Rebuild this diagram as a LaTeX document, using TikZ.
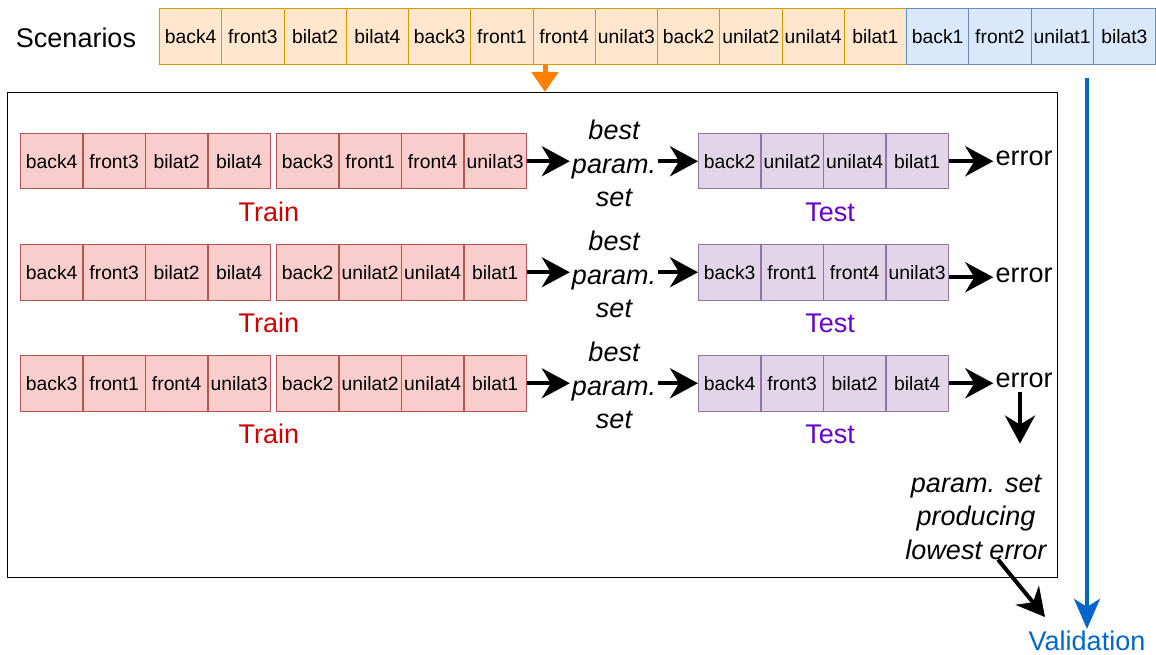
\documentclass[tikz,border=0pt]{standalone}
\usepackage{fontspec}
\setmainfont{Liberation Sans}
\usetikzlibrary{arrows.meta,calc}
\definecolor{orfill}{HTML}{FFE6CC}
\definecolor{ordraw}{HTML}{D79B00}
\definecolor{blfill}{HTML}{DAE8FC}
\definecolor{bldraw}{HTML}{6C8EBF}
\definecolor{rdfill}{HTML}{F8CECC}
\definecolor{rddraw}{HTML}{B85450}
\definecolor{pufill}{HTML}{E1D5E7}
\definecolor{pudraw}{HTML}{9673A6}
\definecolor{traincol}{HTML}{CC0000}
\definecolor{testcol}{HTML}{6600CC}
\definecolor{valcol}{HTML}{0066CC}
\definecolor{orarrow}{HTML}{FF8000}
\begin{document}
\begin{tikzpicture}[x=1pt,y=-1pt,
  cellbase/.style={draw, line width=1pt, minimum width=62.3pt, minimum height=55.5pt, inner sep=0pt, anchor=north west, font=\fontsize{19.3}{22}\selectfont},
  ocell/.style={cellbase, fill=orfill, draw=ordraw, minimum height=56pt},
  bcell/.style={cellbase, fill=blfill, draw=bldraw, minimum height=56pt},
  rcell/.style={cellbase, fill=rdfill, draw=rddraw},
  pcell/.style={cellbase, fill=pufill, draw=pudraw},
  bigtxt/.style={font=\fontsize{27}{33.5}\selectfont, inner sep=2pt},
  bestlbl/.style={bigtxt, font=\fontsize{27}{33.5}\selectfont\itshape, align=center},
  trainlbl/.style={bigtxt, text=traincol},
  testlbl/.style={bigtxt, text=testcol},
  blkarrow/.style={line width=4pt, -{Stealth[length=28pt,width=30pt,inset=9pt]}},
]
\useasboundingbox (0,0) rectangle (1156,655);

% Scenarios row
\node[bigtxt, anchor=center] (scen) at (76,38) {Scenarios};
\foreach \n [count=\i] in {back4,front3,bilat2,bilat4,back3,front1,front4,unilat3,back2,unilat2,unilat4,bilat1,back1,front2,unilat1,bilat3} {
  \ifnum\i>12 \def\cellsty{bcell}\else\def\cellsty{ocell}\fi
  \node[\cellsty] (s\i) at ({159+(\i-1)*62.25}, 8) {\n};
}

% big box
\node[draw, line width=1.3pt, minimum width=1050pt, minimum height=485pt, anchor=north west, inner sep=0pt] (box) at (7,92) {};

% orange arrow
\coordinate (otop) at (545,64);
\draw[orarrow, line width=5pt, -{Triangle[length=20pt,width=26pt]}] (otop) -- (otop |- box.north);

% ---------- Row 1 ----------
\foreach \n [count=\i] in {back4,front3,bilat2,bilat4} {
  \node[rcell] (a\i) at ({20+(\i-1)*62.5},133) {\n};
}
\foreach \n [count=\i] in {back3,front1,front4,unilat3} {
  \node[rcell] (b\i) at ({276+(\i-1)*62.5},133) {\n};
}
\foreach \n [count=\i] in {back2,unilat2,unilat4,bilat1} {
  \node[pcell] (c\i) at ({698+(\i-1)*62.5},133) {\n};
}
\node[trainlbl] (train1) at (269,212) {Train};
\node[testlbl] (test1) at (830,212) {Test};
\node[bestlbl] (best1) at (614,163.5) {best\\param.\\set};
\node[bigtxt] (err1) at (1024,158) {error};
\draw[blkarrow] (b4.east) -- (b4.east -| best1.west);
\draw[blkarrow] (c1.west -| best1.east) -- (c1.west);
\draw[blkarrow] (c4.east) -- (c4.east -| err1.west);

% ---------- Row 2 ----------
\foreach \n [count=\i] in {back4,front3,bilat2,bilat4} {
  \node[rcell] (d\i) at ({20+(\i-1)*62.5},244) {\n};
}
\foreach \n [count=\i] in {back2,unilat2,unilat4,bilat1} {
  \node[rcell] (e\i) at ({276+(\i-1)*62.5},244) {\n};
}
\foreach \n [count=\i] in {back3,front1,front4,unilat3} {
  \node[pcell] (f\i) at ({698+(\i-1)*62.5},244) {\n};
}
\node[trainlbl] (train2) at (269,323) {Train};
\node[testlbl] (test2) at (830,323) {Test};
\node[bestlbl] (best2) at (614,274.5) {best\\param.\\set};
\node[bigtxt] (err2) at (1024,275) {error};
\draw[blkarrow] (e4.east) -- (e4.east -| best2.west);
\draw[blkarrow] (f1.west -| best2.east) -- (f1.west);
\draw[blkarrow] ($(f4.east)+(0,5)$) -- ($(f4.east -| err2.west)+(0,5)$);

% ---------- Row 3 ----------
\foreach \n [count=\i] in {back3,front1,front4,unilat3} {
  \node[rcell] (g\i) at ({20+(\i-1)*62.5},355) {\n};
}
\foreach \n [count=\i] in {back2,unilat2,unilat4,bilat1} {
  \node[rcell] (h\i) at ({276+(\i-1)*62.5},355) {\n};
}
\foreach \n [count=\i] in {back4,front3,bilat2,bilat4} {
  \node[pcell] (k\i) at ({698+(\i-1)*62.5},355) {\n};
}
\node[trainlbl] (train3) at (269,434) {Train};
\node[testlbl] (test3) at (830,434) {Test};
\node[bestlbl] (best3) at (614,385.5) {best\\param.\\set};
\node[bigtxt] (err3) at (1024,380) {error};
\draw[blkarrow] (h4.east) -- (h4.east -| best3.west);
\draw[blkarrow] (k1.west -| best3.east) -- (k1.west);
\draw[blkarrow] (k4.east) -- (k4.east -| err3.west);

% lowest error
\node[bestlbl] (lowest) at (976,517) {param. set\\producing\\lowest error};
\draw[blkarrow] ($(err3.south)+(-4,2)$) -- ($(err3.south)+(-4,54)$);

% validation
\node[bigtxt, text=valcol] (valid) at (1087,641) {Validation};
\coordinate (btop) at (1087,78);
\draw[valcol, line width=3.5pt, -{Stealth[length=30pt,width=26pt,inset=8pt]}] (btop) -- (valid.north);
\coordinate (vtip) at (1045,617);
\draw[blkarrow] ($(lowest.south)+(22,-2)$) -- (vtip);
\end{tikzpicture}
\end{document}
